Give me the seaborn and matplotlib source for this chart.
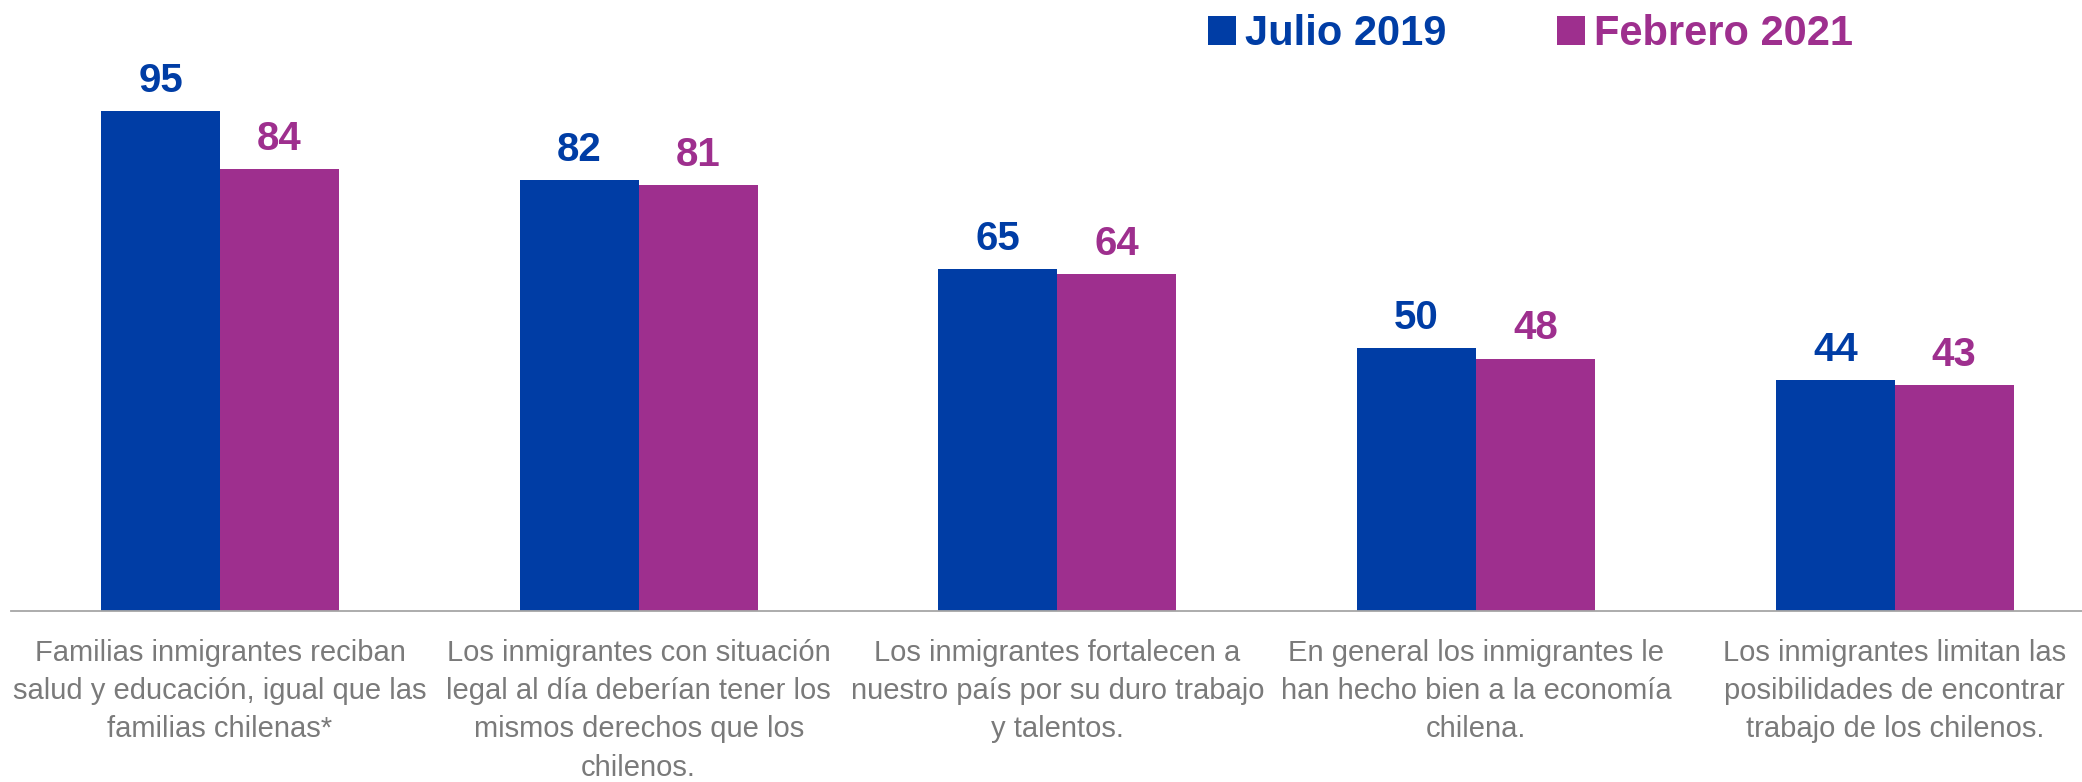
import pandas as pd
import seaborn as sns
from matplotlib import pyplot as plt

categories = [
    "Familias inmigrantes reciban\nsalud y educación, igual que las\nfamilias chilenas*",
    "Los inmigrantes con situación\nlegal al día deberían tener los\nmismos derechos que los\nchilenos.",
    "Los inmigrantes fortalecen a\nnuestro país por su duro trabajo\ny talentos.",
    "En general los inmigrantes le\nhan hecho bien a la economía\nchilena.",
    "Los inmigrantes limitan las\nposibilidades de encontrar\ntrabajo de los chilenos.",
]
periods = ["Julio 2019", "Febrero 2021"]
julio_2019 = [95, 82, 65, 50, 44]
febrero_2021 = [84, 81, 64, 48, 43]

colors = ["#003da5", "#9e2f8e"]
gray = "#7a7a7a"

df = pd.DataFrame(
    {
        "categoria": categories * 2,
        "periodo": [periods[0]] * len(categories) + [periods[1]] * len(categories),
        "valor": julio_2019 + febrero_2021,
    }
)

sns.set_style("white")
plt.rcParams["font.family"] = ["Liberation Sans", "DejaVu Sans"]

fig = plt.figure(figsize=(20.82, 7.82), dpi=100)
ax = fig.add_axes([0.0051, 0.2187, 1.0055, 0.7813])

sns.barplot(
    data=df,
    x="categoria",
    y="valor",
    hue="periodo",
    hue_order=periods,
    palette=colors,
    saturation=1,
    width=0.568,
    gap=0,
    linewidth=0,
    ax=ax,
)

ax.set_xlim(-0.5, 4.5)
ax.set_ylim(0, 116.2)
ax.set_xlabel("")
ax.set_ylabel("")
ax.set_yticks([])

for sp in ["top", "left", "right"]:
    ax.spines[sp].set_visible(False)
ax.spines["bottom"].set_color("#a6a6a6")
ax.spines["bottom"].set_linewidth(1.3)

# separators between categories drawn as minor ticks
ax.set_xticks([i - 0.5 for i in range(len(categories) + 1)], minor=True)
ax.tick_params(axis="x", which="minor", length=8, width=1, color="#a6a6a6")
ax.tick_params(axis="x", which="major", length=0, pad=20)
ax.set_xticks(range(len(categories)))
ax.set_xticklabels(categories, fontsize=21, color=gray, linespacing=1.47)

for cont, col in zip(ax.containers, colors):
    ax.bar_label(cont, padding=8, fontsize=29, fontweight="bold", color=col)

handles, labels = ax.get_legend_handles_labels()
if ax.legend_:
    ax.legend_.remove()
leg = fig.legend(
    handles,
    labels,
    loc="center left",
    bbox_to_anchor=(1208 / 2082, 1 - 34 / 782),
    ncol=2,
    frameon=False,
    prop={"weight": "bold", "size": 30},
    handlelength=0.67,
    handleheight=0.67,
    handletextpad=0.22,
    columnspacing=2.65,
    borderpad=0,
    borderaxespad=0,
)
for txt, col in zip(leg.get_texts(), colors):
    txt.set_color(col)

fig.savefig("out.png", dpi=100, facecolor="white")
